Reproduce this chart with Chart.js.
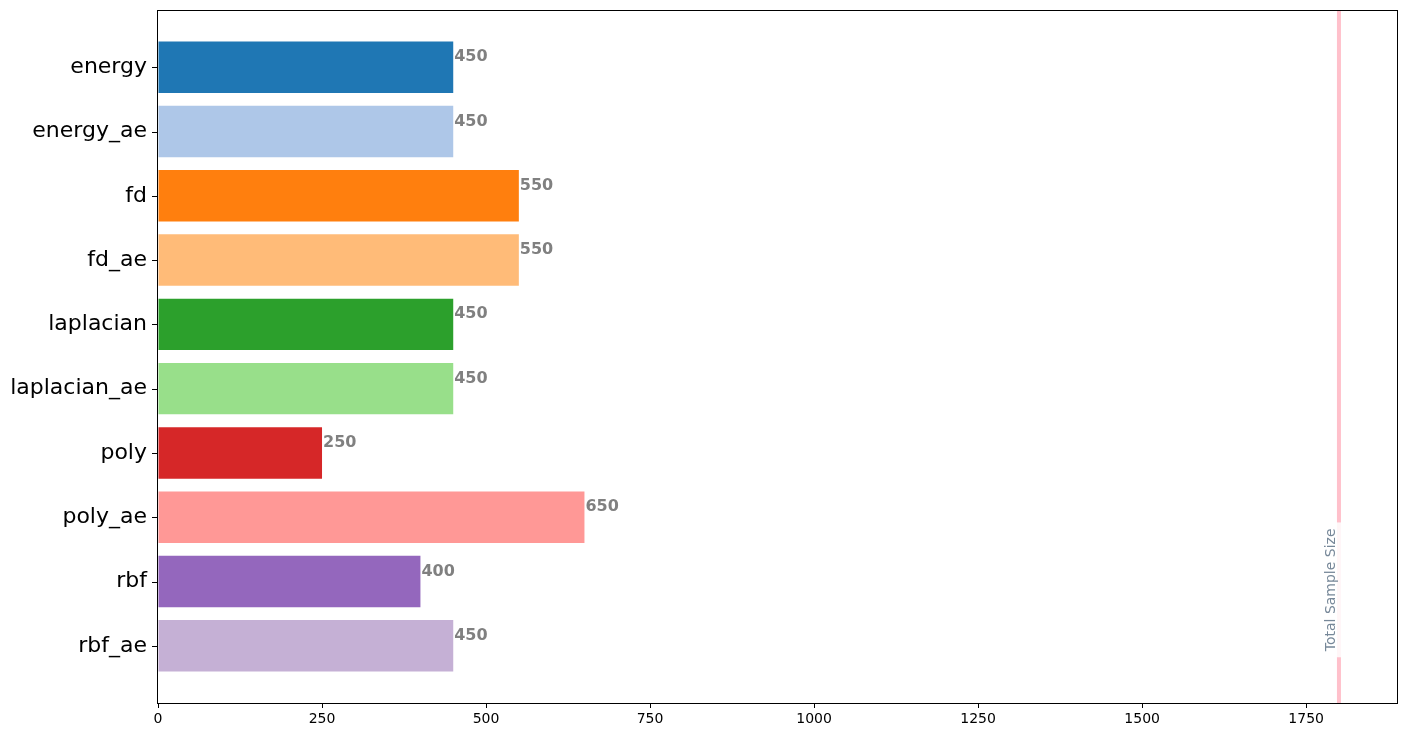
<!DOCTYPE html>
<html>
<head>
<meta charset="utf-8">
<script src="https://cdn.jsdelivr.net/npm/chart.js@4/dist/chart.umd.min.js"></script>
<style>
html,body{margin:0;padding:0;background:#fff;}
canvas{display:block;}
</style>
</head>
<body>
<canvas id="c" width="1408" height="736"></canvas>
<script>
const categories = ['energy','energy_ae','fd','fd_ae','laplacian','laplacian_ae','poly','poly_ae','rbf','rbf_ae'];
const sampleSizes = [450,450,550,550,450,450,250,650,400,450];
const barColors = ['#1f77b4','#aec7e8','#ff7f0e','#ffbb78','#2ca02c','#98df8a','#d62728','#ff9896','#9467bd','#c5b0d5'];
const xTicks = [0,250,500,750,1000,1250,1500,1750];
const totalSampleSize = 1800;
const refLabel = 'Total Sample Size';
const refLabelPos = 8.13;

const FONT = '"DejaVu Sans", sans-serif';

const overlay = {
  id: 'overlay',
  beforeDatasetsDraw(chart) {
    const ctx = chart.ctx, a = chart.chartArea;
    const xs = chart.scales.x, ys = chart.scales.y;
    const lx = xs.getPixelForValue(totalSampleSize);
    ctx.save();
    ctx.strokeStyle = '#ffc0cb';
    ctx.lineWidth = 4;
    ctx.beginPath();
    ctx.moveTo(lx, a.top);
    ctx.lineTo(lx, a.bottom);
    ctx.stroke();
    const cy = ys.getPixelForValue(refLabelPos);
    ctx.font = '14px ' + FONT;
    const w = ctx.measureText(refLabel).width;
    const pad = 6;
    const th = 16;
    const bottomX = lx - 1;
    ctx.fillStyle = 'rgba(255,255,255,0.85)';
    ctx.fillRect(bottomX - th - pad + 2, cy - w/2 - pad, th + 2*pad - 2, w + 2*pad);
    ctx.translate(bottomX, cy);
    ctx.rotate(-Math.PI/2);
    ctx.fillStyle = '#778899';
    ctx.textAlign = 'center';
    ctx.textBaseline = 'bottom';
    ctx.fillText(refLabel, 0, 0);
    ctx.restore();
  },
  afterDatasetsDraw(chart) {
    const ctx = chart.ctx;
    const meta = chart.getDatasetMeta(0);
    ctx.save();
    ctx.font = 'bold 16px ' + FONT;
    ctx.fillStyle = '#808080';
    ctx.textAlign = 'left';
    ctx.textBaseline = 'alphabetic';
    meta.data.forEach((el, i) => {
      ctx.fillText(String(sampleSizes[i]), el.x + 1, el.y - 6);
    });
    ctx.restore();
  },
  afterDraw(chart) {
    const ctx = chart.ctx, a = chart.chartArea;
    const ys = chart.scales.y;
    ctx.save();
    ctx.strokeStyle = '#000';
    ctx.lineWidth = 1;
    ctx.strokeRect(Math.round(a.left) - 0.5, Math.round(a.top) + 0.5, Math.round(a.right - a.left), Math.round(a.bottom - a.top));
    ctx.fillStyle = '#000';
    categories.forEach((_, i) => {
      const py = Math.round(ys.getPixelForValue(i));
      ctx.fillRect(Math.round(a.left) - 6, py, 6, 1);
    });
    ctx.restore();
  }
};

new Chart(document.getElementById('c'), {
  type: 'bar',
  data: {
    datasets: [{
      data: sampleSizes.map((v, i) => ({x: v, y: i})),
      backgroundColor: barColors,
      borderWidth: 0,
      categoryPercentage: 1,
      barPercentage: 0.8
    }]
  },
  options: {
    indexAxis: 'y',
    responsive: false,
    animation: false,
    layout: {padding: {top: 10, right: 10, left: 0, bottom: 0}},
    plugins: {legend: {display: false}, tooltip: {enabled: false}},
    scales: {
      x: {
        type: 'linear',
        min: 0,
        max: 1890,
        offset: false,
        afterBuildTicks(scale) { scale.ticks = xTicks.map(v => ({value: v})); },
        afterFit(scale) { scale.height = 33; scale.paddingLeft = 0; scale.paddingRight = 0; },
        grid: {drawOnChartArea: false, drawTicks: true, tickLength: 5, color: '#000', offset: false},
        border: {display: false},
        ticks: {font: {family: FONT, size: 14}, color: '#000', padding: 3, maxRotation: 0, autoSkip: false, callback: (v) => String(v)}
      },
      y: {
        type: 'linear',
        min: -0.89,
        max: 9.89,
        reverse: true,
        offset: false,
        afterBuildTicks(scale) { scale.ticks = categories.map((_, i) => ({value: i})); },
        afterFit(scale) { scale.width = 158; scale.paddingTop = 0; scale.paddingBottom = 0; },
        grid: {drawOnChartArea: false, drawTicks: false, tickLength: 5, color: '#000', offset: false},
        border: {display: false},
        ticks: {
          font: {family: FONT, size: 22},
          color: '#000',
          padding: 11,
          autoSkip: false,
          callback: (v) => categories[v]
        }
      }
    }
  },
  plugins: [overlay]
});
</script>
</body>
</html>
